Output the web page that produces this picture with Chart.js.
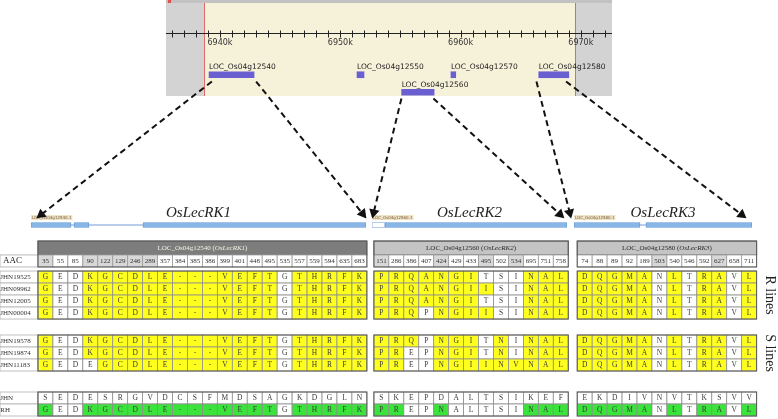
<!DOCTYPE html>
<html>
<head>
<meta charset="utf-8">
<script src="https://cdn.jsdelivr.net/npm/chart.js@4.4.1/dist/chart.umd.min.js"></script>
<style>
  html, body { margin: 0; padding: 0; background: #fff; }
  #page { position: relative; width: 778px; height: 419px; overflow: hidden; }
  #page canvas { position: absolute; }
</style>
</head>
<body>
<div id="page">
  <canvas id="browser" width="446" height="104" style="left:166px;top:0px"></canvas>
  <canvas id="gene1" width="335" height="25" style="left:31px;top:203px"></canvas>
  <canvas id="gene2" width="195" height="25" style="left:372px;top:203px"></canvas>
  <canvas id="gene3" width="178" height="25" style="left:574px;top:203px"></canvas>
  <canvas id="table" width="778" height="183" style="left:0px;top:236px"></canvas>
  <canvas id="links" width="778" height="419" style="left:0px;top:0px;pointer-events:none"></canvas>
</div>
<script>
// ---- genome browser (chromosome 4, kb) ----
const loci = ['LOC_Os04g12540', 'LOC_Os04g12550', 'LOC_Os04g12570', 'LOC_Os04g12580', 'LOC_Os04g12560'];
const locusStart = [6939.09, 6951.39, 6959.20, 6966.50, 6955.10];
const locusEnd = [6942.83, 6951.97, 6959.60, 6969.00, 6957.80];
const locusTrack = ['upper', 'upper', 'upper', 'upper', 'lower'];
const viewRange = [6935.51, 6972.59];
const selectedRange = [6938.67, 6969.51];
const rulerLabels = [6940, 6950, 6960, 6970];

// ---- gene models (bp from transcript start) ----
const models = ['OsLecRK1', 'OsLecRK2', 'OsLecRK3'];
const modelLoci = ['LOC_Os04g12540', 'LOC_Os04g12560', 'LOC_Os04g12580'];
const transcripts = ['LOC_Os04g12540.1', 'LOC_Os04g12560.1', 'LOC_Os04g12580.1'];
const modelLength = [3740, 2700, 2500];
const modelExons = [[[0, 447], [480, 647], [1250, 3740]], [[180, 2700]], [[0, 927], [1011, 2500]]];
const modelUtr = [[], [[0, 180]], []];

// ---- amino acid changes ----
const aacRK1 = [35, 55, 85, 90, 122, 129, 246, 289, 357, 384, 385, 386, 399, 401, 448, 495, 535, 557, 559, 594, 635, 683];
const aacRK2 = [151, 286, 386, 407, 424, 429, 433, 495, 502, 534, 695, 751, 758];
const aacRK3 = [74, 88, 89, 92, 189, 503, 540, 546, 592, 627, 658, 711];
const shadedRK1 = [35, 90, 122, 129, 246, 289];
const shadedRK2 = [151, 424, 495, 534];
const shadedRK3 = [503, 627];
const lineNames = ['JHN19525', 'JHN09962', 'JHN12005', 'JHN00004', 'JHN19578', 'JHN19874', 'JHN11183', 'JHN', 'RH'];
const lineGroup = ['R', 'R', 'R', 'R', 'S', 'S', 'S', 'P', 'P'];
const rk1Alleles = ['GEDKGCDLE---VEFTGTHRFK', 'GEDKGCDLE---VEFTGTHRFK', 'GEDKGCDLE---VEFTGTHRFK', 'GEDKGCDLE---VEFTGTHRFK',
  'GEDKGCDLE---VEFTGTHRFK', 'GEDKGCDLE---VEFTGTHRFK', 'GEDEGCDLE---VEFTGTHRFK', 'SEDESRGVDCSFMDSAGKDGLN', 'GEDKGCDLE---VEFTGTHRFK'];
const rk2Alleles = ['PRQANGITSINAL', 'PRQANGIISINAL', 'PRQANGITSINAL', 'PRQPNGIISINAL',
  'PRQPNGITNINAL', 'PREPNGITNINAL', 'PREPNGIINVNAL', 'SKEPDALTSIKEF', 'PREPNALTSINAL'];
const rk3Alleles = ['DQGMANLTRAVL', 'DQGMANLTRAVL', 'DQGMANLTRAVL', 'DQGMANLTRAVL',
  'DQGMANLTRAVL', 'DQGMANLTRAVL', 'DQGMANLTRAVL', 'EKDIVNVTKSVV', 'DQGMANLTRAVL'];
const groupLabels = { R: 'R lines', S: 'S lines' };

const SANS = "'DejaVu Sans', sans-serif";
const SERIF = "'Liberation Serif', 'DejaVu Serif', serif";
const common = { responsive: false, animation: false, events: [], devicePixelRatio: 1 };
const noPlugins = { legend: { display: false }, tooltip: { enabled: false } };

// browser panel: background, region marks, ruler, gene names
const browserPanel = {
  id: 'browserPanel',
  beforeDatasetsDraw(chart) {
    const { ctx, scales: { x } } = chart;
    const W = chart.width, H = 96;
    const a = x.getPixelForValue(selectedRange[0]);
    const b = x.getPixelForValue(selectedRange[1]);
    ctx.save();
    ctx.fillStyle = '#f6f2da';
    ctx.fillRect(0, 3, W, H - 3);
    ctx.fillStyle = '#d3d3d3';
    ctx.fillRect(0, 3, a, H - 3);
    ctx.fillRect(b, 3, W - b, H - 3);
    ctx.fillStyle = '#c2c2c2';
    ctx.fillRect(0, 0, W, 3);
    ctx.fillStyle = '#e05050';
    ctx.fillRect(2, 0, 3, 3);
    ctx.strokeStyle = '#e06a6a';
    ctx.lineWidth = 1;
    [a, b].forEach(p => {
      ctx.beginPath(); ctx.moveTo(Math.round(p) + 0.5, 3); ctx.lineTo(Math.round(p) + 0.5, H); ctx.stroke();
    });
    // ruler
    const ry = 33.5;
    ctx.strokeStyle = '#222';
    ctx.beginPath(); ctx.moveTo(0, ry); ctx.lineTo(W, ry); ctx.stroke();
    for (let v = Math.ceil(viewRange[0]); v <= viewRange[1]; v++) {
      const p = Math.round(x.getPixelForValue(v)) + 0.5;
      ctx.beginPath(); ctx.moveTo(p, ry - 3); ctx.lineTo(p, ry + 4); ctx.stroke();
    }
    ctx.fillStyle = '#333';
    ctx.font = '8px ' + SANS;
    ctx.textAlign = 'center';
    ctx.textBaseline = 'middle';
    rulerLabels.forEach(v => ctx.fillText(v + 'k', x.getPixelForValue(v), 43));
    ctx.restore();
  },
  afterDatasetsDraw(chart) {
    const { ctx, scales: { x, y } } = chart;
    ctx.save();
    ctx.fillStyle = '#222';
    ctx.font = '7.5px ' + SANS;
    ctx.textAlign = 'left';
    ctx.textBaseline = 'alphabetic';
    loci.forEach((name, i) => {
      const top = y.getPixelForValue(chart.data.labels.indexOf(locusTrack[i])) - 3;
      ctx.fillText(name, x.getPixelForValue(locusStart[i]), top - 2.5);
    });
    ctx.restore();
  }
};

const browser = new Chart(document.getElementById('browser'), {
  type: 'bar',
  data: {
    labels: ['upper', 'lower'],
    datasets: [{
      data: loci.map((n, i) => ({ x: [locusStart[i], locusEnd[i]], y: locusTrack[i] })),
      backgroundColor: '#6a5fd0',
      barThickness: 6,
      borderSkipped: false,
      grouped: false
    }]
  },
  options: {
    ...common,
    indexAxis: 'y',
    layout: { padding: { top: 66, bottom: 3 } },
    plugins: noPlugins,
    scales: {
      x: { type: 'linear', min: viewRange[0], max: viewRange[1], display: false },
      y: { type: 'category', display: false, offset: true }
    }
  },
  plugins: [browserPanel]
});

// gene models
const transcriptTag = {
  id: 'transcriptTag',
  afterDatasetsDraw(chart, args, opts) {
    const { ctx, chartArea } = chart;
    ctx.save();
    ctx.font = '4px ' + SANS;
    const w = ctx.measureText(opts.text).width;
    ctx.fillStyle = '#efe3c6';
    ctx.fillRect(chartArea.left, chartArea.top - 7, w + 2, 5);
    ctx.fillStyle = '#7a5c3c';
    ctx.textBaseline = 'alphabetic';
    ctx.fillText(opts.text, chartArea.left + 1, chartArea.top - 3);
    ctx.restore();
  }
};

const geneCharts = models.map((name, m) => new Chart(document.getElementById('gene' + (m + 1)), {
  type: 'bar',
  data: {
    labels: ['model'],
    datasets: [
      { data: modelExons[m].map(e => ({ x: e, y: 'model' })), backgroundColor: '#88b6e6',
        borderColor: '#5f96d2', borderWidth: 0.8, barThickness: 5, borderSkipped: false, grouped: false },
      { data: modelUtr[m].map(e => ({ x: e, y: 'model' })), backgroundColor: '#ffffff',
        borderColor: '#7aa6da', borderWidth: 0.8, barThickness: 5, borderSkipped: false, grouped: false },
      { data: [{ x: [0, modelLength[m]], y: 'model' }], backgroundColor: '#a3bde4',
        barThickness: 1, borderSkipped: false, grouped: false }
    ]
  },
  options: {
    ...common,
    indexAxis: 'y',
    plugins: {
      ...noPlugins,
      title: { display: true, text: name, color: '#222', padding: { top: 1, bottom: 0 },
        font: { family: SERIF, style: 'italic', weight: 'normal', size: 15 } },
      transcriptTag: { text: transcripts[m] }
    },
    scales: {
      x: { type: 'linear', min: 0, max: modelLength[m], display: false },
      y: { type: 'category', display: false, offset: true }
    }
  },
  plugins: [transcriptTag]
}));

// allele table
const blocks = [
  { locus: modelLoci[0], gene: models[0], aac: aacRK1, shaded: shadedRK1, alleles: rk1Alleles },
  { locus: modelLoci[1], gene: models[1], aac: aacRK2, shaded: shadedRK2, alleles: rk2Alleles },
  { locus: modelLoci[2], gene: models[2], aac: aacRK3, shaded: shadedRK3, alleles: rk3Alleles }
];
const BLOCK_GAP = [0.47, 0.6];
const blockStart = [0];
for (let b = 1; b < blocks.length; b++) blockStart.push(blockStart[b - 1] + blocks[b - 1].aac.length + BLOCK_GAP[b - 1]);
const LABEL_START = -2.54;
const HEAD_TOP = 0.42, AAC_TOP = 1.58;
const groupTop = { R: 2.92, S: 8.25, P: 13.0 };
const rowInGroup = lineGroup.map((g, r) => lineGroup.slice(0, r).filter(v => v === g).length);

const alleleTable = {
  id: 'alleleTable',
  afterDraw(chart) {
    const { ctx, scales: { x, y } } = chart;
    const X = v => x.getPixelForValue(v);
    const Y = v => y.getPixelForValue(v);
    ctx.save();
    ctx.textBaseline = 'middle';
    const box = (c0, c1, r0, r1, fill, stroke, lw) => {
      const x0 = X(c0), x1 = X(c1), y0 = Y(r0), y1 = Y(r1);
      if (fill) { ctx.fillStyle = fill; ctx.fillRect(x0, y0, x1 - x0, y1 - y0); }
      if (stroke) { ctx.strokeStyle = stroke; ctx.lineWidth = lw; ctx.strokeRect(x0, y0, x1 - x0, y1 - y0); }
    };
    const text = (t, c, r, font, color, align) => {
      ctx.font = font; ctx.fillStyle = color; ctx.textAlign = align || 'center';
      ctx.fillText(t, X(c), Y(r));
    };
    const refRow = lineNames.indexOf('JHN');
    const rhRow = lineNames.indexOf('RH');

    // row labels
    box(LABEL_START, 0, AAC_TOP, AAC_TOP + 1, '#fff', '#a8a8a8', 0.8);
    text('AAC', LABEL_START + 0.2, AAC_TOP + 0.5, '9px ' + SERIF, '#222', 'left');
    lineNames.forEach((name, r) => {
      const top = groupTop[lineGroup[r]] + rowInGroup[r];
      box(LABEL_START, 0, top, top + 1, '#fff', '#b0b0b0', 0.8);
      text(name, LABEL_START + 0.02, top + 0.5, '7px ' + SERIF, '#333', 'left');
    });

    blocks.forEach((blk, b) => {
      const c0 = blockStart[b], c1 = c0 + blk.aac.length;
      // header bar
      box(c0, c1, HEAD_TOP, AAC_TOP, b === 0 ? '#7d7d7d' : '#c4c4c4', '#6a6a6a', 1);
      const pre = blk.locus + ' (', post = ')';
      ctx.font = '7px ' + SERIF;
      const w1 = ctx.measureText(pre).width, w3 = ctx.measureText(post).width;
      ctx.font = 'italic 7px ' + SERIF;
      const w2 = ctx.measureText(blk.gene).width;
      let tx = (X(c0) + X(c1)) / 2 - (w1 + w2 + w3) / 2;
      const ty = Y((HEAD_TOP + AAC_TOP) / 2);
      ctx.fillStyle = b === 0 ? '#f4f1e2' : '#2a2a2a';
      ctx.textAlign = 'left';
      ctx.font = '7px ' + SERIF; ctx.fillText(pre, tx, ty); tx += w1;
      ctx.font = 'italic 7px ' + SERIF; ctx.fillText(blk.gene, tx, ty); tx += w2;
      ctx.font = '7px ' + SERIF; ctx.fillText(post, tx, ty);
      // position row
      blk.aac.forEach((pos, i) => {
        box(c0 + i, c0 + i + 1, AAC_TOP, AAC_TOP + 1, blk.shaded.includes(pos) ? '#d8d8d8' : '#ffffff', '#9a9a9a', 0.8);
        text(String(pos), c0 + i + 0.5, AAC_TOP + 0.5, '7px ' + SERIF, '#333');
      });
      box(c0, c1, HEAD_TOP, AAC_TOP + 1, null, '#5a5a5a', 1);
      // allele rows: coloured where the residue differs from JHN
      lineNames.forEach((name, r) => {
        const top = groupTop[lineGroup[r]] + rowInGroup[r];
        const seq = blk.alleles[r], ref = blk.alleles[refRow];
        for (let i = 0; i < seq.length; i++) {
          const changed = r !== refRow && seq[i] !== ref[i];
          const fill = changed ? (r === rhRow ? '#3ae43a' : '#ffff1e') : '#ffffff';
          box(c0 + i, c0 + i + 1, top, top + 1, fill, '#8e8e8e', 0.8);
          text(seq[i], c0 + i + 0.5, top + 0.5, '7.5px ' + SERIF, '#3a3a3a');
        }
      });
      Object.keys(groupTop).forEach(g => {
        const n = lineGroup.filter(v => v === g).length;
        box(c0, c1, groupTop[g], groupTop[g] + n, null, '#5a5a5a', 1);
      });
    });

    // group captions
    ctx.font = '14px ' + SERIF;
    ctx.fillStyle = '#222';
    ctx.textAlign = 'center';
    Object.keys(groupLabels).forEach(g => {
      const n = lineGroup.filter(v => v === g).length;
      ctx.save();
      ctx.translate(chart.chartArea.right - 8, Y(groupTop[g] + n / 2));
      ctx.rotate(Math.PI / 2);
      ctx.fillText(groupLabels[g], 0, 0);
      ctx.restore();
    });
    ctx.restore();
  }
};

const table = new Chart(document.getElementById('table'), {
  type: 'scatter',
  data: { datasets: [] },
  options: {
    ...common,
    plugins: noPlugins,
    scales: {
      x: { type: 'linear', min: LABEL_START, max: 49.5, display: false },
      y: { type: 'linear', min: 0, max: 15.25, reverse: true, display: false }
    }
  },
  plugins: [alleleTable]
});

// dashed arrows from loci to gene models
const HEAD = 6;
const browserCanvas = document.getElementById('browser');
const linkDatasets = [];
modelLoci.forEach((locus, m) => {
  const i = loci.indexOf(locus);
  const gc = geneCharts[m], gCanvas = gc.canvas;
  const fromY = browser.scales.y.getPixelForValue(browser.data.labels.indexOf(locusTrack[i])) + 3 + browserCanvas.offsetTop;
  const toY = gc.scales.y.getPixelForValue(0) - 2.5 - 4 + gCanvas.offsetTop;
  [[locusStart[i], 0], [locusEnd[i], modelLength[m]]].forEach(([kb, bp]) => {
    const from = { x: browser.scales.x.getPixelForValue(kb) + browserCanvas.offsetLeft, y: fromY };
    const to = { x: gc.scales.x.getPixelForValue(bp) + gCanvas.offsetLeft, y: toY };
    const dx = to.x - from.x, dy = to.y - from.y, len = Math.hypot(dx, dy);
    const ux = dx / len, uy = dy / len;
    const tip = { x: to.x - ux * HEAD, y: to.y - uy * HEAD };
    linkDatasets.push({
      data: [from, tip],
      showLine: true,
      borderColor: '#111',
      borderWidth: 2,
      borderDash: [6, 4],
      pointRadius: [0, HEAD],
      pointStyle: 'triangle',
      pointRotation: [0, Math.atan2(ux, -uy) * 180 / Math.PI],
      pointBackgroundColor: '#111',
      pointBorderColor: '#111',
      pointBorderWidth: 0
    });
  });
});

const linkCanvas = document.getElementById('links');
new Chart(linkCanvas, {
  type: 'scatter',
  data: { datasets: linkDatasets },
  options: {
    ...common,
    plugins: noPlugins,
    scales: {
      x: { type: 'linear', min: 0, max: linkCanvas.width, display: false },
      y: { type: 'linear', min: 0, max: linkCanvas.height, reverse: true, display: false }
    }
  }
});
</script>
</body>
</html>
